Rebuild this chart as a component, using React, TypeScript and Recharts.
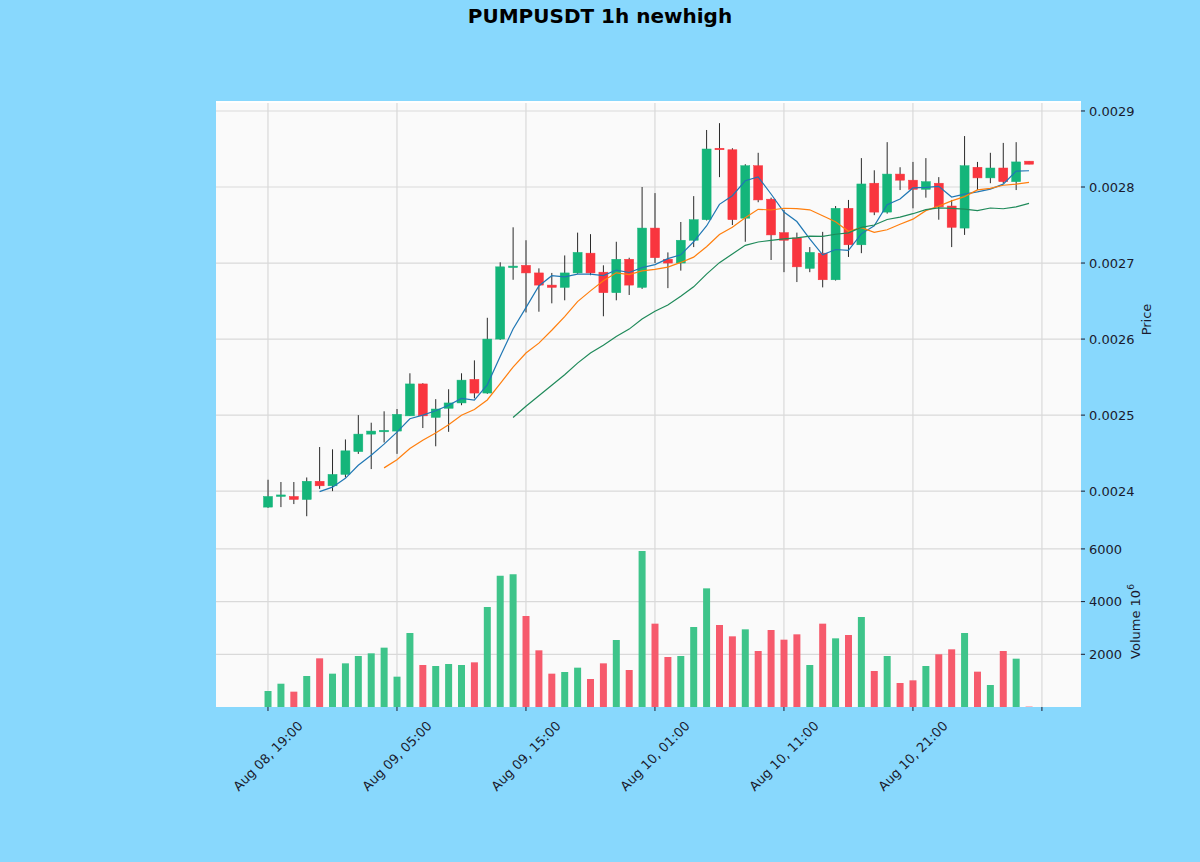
import { ComposedChart, Bar, Line, XAxis, YAxis, CartesianGrid, Cell } from "recharts";

// hourly candles, index 0 = Aug 08 19:00
const opens = [
  0.002379, 0.002393, 0.002393, 0.002389, 0.002413, 0.002407, 0.002422, 0.002452, 0.002475, 0.002479,
  0.002479, 0.002499, 0.002541, 0.002497, 0.002509, 0.002516, 0.002547, 0.002529, 0.0026, 0.002695,
  0.002697, 0.002687, 0.002671, 0.002668, 0.002687, 0.002713, 0.002688, 0.002661, 0.002705, 0.002668,
  0.002746, 0.002705, 0.0027, 0.00273, 0.002757, 0.002851, 0.002849, 0.002759, 0.002828, 0.002784,
  0.00274, 0.002733, 0.002693, 0.002713, 0.002678, 0.002772, 0.002724, 0.002805, 0.002767, 0.002817,
  0.002809, 0.002797, 0.002805, 0.002775, 0.002746, 0.002826, 0.002812, 0.002825, 0.002807, 0.002834,
];
const highs = [
  0.002415, 0.002412, 0.002412, 0.002418, 0.002458, 0.002455, 0.002468, 0.0025, 0.00249, 0.002505,
  0.002508, 0.002555, 0.002542, 0.002521, 0.002534, 0.002555, 0.002572, 0.002628, 0.002701, 0.002747,
  0.00273, 0.002693, 0.002687, 0.00271, 0.00274, 0.002738, 0.002697, 0.002728, 0.002707, 0.0028,
  0.002792, 0.002714, 0.002754, 0.002788, 0.002875, 0.002884, 0.002851, 0.00283, 0.002845, 0.002786,
  0.00277, 0.00274, 0.002721, 0.002741, 0.002775, 0.002783, 0.002838, 0.002822, 0.002859, 0.002826,
  0.002833, 0.002838, 0.002813, 0.002783, 0.002867, 0.002833, 0.002845, 0.002858, 0.002859, 0.002834,
];
const lows = [
  0.002378, 0.002379, 0.002383, 0.002367, 0.002403, 0.0024, 0.002418, 0.002449, 0.002429, 0.002464,
  0.002449, 0.002499, 0.002483, 0.002459, 0.002478, 0.002513, 0.002522, 0.002528, 0.002599, 0.002678,
  0.002635, 0.002636, 0.002647, 0.002651, 0.002686, 0.002684, 0.00263, 0.002651, 0.002658, 0.002666,
  0.0027, 0.002667, 0.00269, 0.002721, 0.002756, 0.002813, 0.00275, 0.002728, 0.00278, 0.002704,
  0.002688, 0.002675, 0.002688, 0.002668, 0.002677, 0.002708, 0.002713, 0.002763, 0.002765, 0.002796,
  0.002772, 0.002786, 0.002757, 0.002721, 0.002737, 0.002796, 0.002805, 0.002805, 0.002796, 0.00283,
];
const closes = [
  0.002393, 0.002395, 0.002389, 0.002413, 0.002407, 0.002422, 0.002453, 0.002475, 0.002479, 0.00248,
  0.002501, 0.002541, 0.002499, 0.002508, 0.002516, 0.002546, 0.002529, 0.0026, 0.002695, 0.002696,
  0.002687, 0.002671, 0.002668, 0.002687, 0.002714, 0.002687, 0.002661, 0.002705, 0.002671, 0.002746,
  0.002707, 0.0027, 0.00273, 0.002757, 0.00285, 0.002849, 0.002757, 0.002828, 0.002783, 0.002737,
  0.00273, 0.002695, 0.002714, 0.002678, 0.002772, 0.002724, 0.002804, 0.002767, 0.002817, 0.002809,
  0.002797, 0.002807, 0.002774, 0.002747, 0.002828, 0.002812, 0.002825, 0.002807, 0.002833, 0.00283,
];
// volume in 10^6
const volumes = [
  607, 884, 582, 1176, 1847, 1265, 1657, 1935, 2037, 2252,
  1151, 2808, 1594, 1556, 1632, 1594, 1695, 3795, 4983, 5035,
  3453, 2151, 1265, 1328, 1493, 1063, 1657, 2543, 1404, 5920,
  3163, 1898, 1935, 3036, 4503, 3112, 2682, 2948, 2125, 2922,
  2555, 2758, 1594, 3163, 2606, 2732, 3416, 1366, 1935, 911,
  1012, 1556, 2000, 2189, 2808, 1341, 835, 2125, 1834, 15,
];
const ma5 = [
  null, null, null, null, 0.0023994, 0.0024052, 0.0024168, 0.002434, 0.0024472, 0.0024618,
  0.0024776, 0.0024952, 0.0025, 0.0025058, 0.002513, 0.002522, 0.0025196, 0.0025398, 0.0025772, 0.0026132,
  0.0026414, 0.0026698, 0.0026834, 0.0026818, 0.0026854, 0.0026854, 0.0026834, 0.0026908, 0.0026876, 0.002694,
  0.002698, 0.0027058, 0.0027108, 0.002728, 0.0027488, 0.0027772, 0.0027886, 0.0028082, 0.0028134, 0.0027908,
  0.002767, 0.0027546, 0.0027318, 0.0027108, 0.0027178, 0.0027166, 0.0027384, 0.002749, 0.0027768, 0.0027842,
  0.0027988, 0.0027994, 0.0028008, 0.0027868, 0.0027906, 0.0027936, 0.0027972, 0.0028038, 0.002821, 0.0028214,
];
const ma10 = [
  null, null, null, null, null, null, null, null, null, 0.0024306,
  0.0024414, 0.002456, 0.002467, 0.0024765, 0.0024874, 0.0024998, 0.0025074, 0.0025199, 0.0025415, 0.0025631,
  0.0025817, 0.0025947, 0.0026116, 0.0026295, 0.0026493, 0.0026634, 0.0026766, 0.0026871, 0.0026847, 0.0026897,
  0.0026917, 0.0026946, 0.0027008, 0.0027078, 0.0027214, 0.0027376, 0.0027472, 0.0027595, 0.0027707, 0.0027698,
  0.0027721, 0.0027716, 0.00277, 0.0027621, 0.0027543, 0.0027418, 0.0027465, 0.0027404, 0.0027438, 0.002751,
  0.0027577, 0.0027689, 0.0027749, 0.0027818, 0.0027874, 0.0027962, 0.0027983, 0.0028023, 0.0028039, 0.002806,
];
const ma20 = [
  null, null, null, null, null, null, null, null, null, null,
  null, null, null, null, null, null, null, null, null, 0.0024969,
  0.0025116, 0.0025254, 0.0025393, 0.002553, 0.0025684, 0.0025816, 0.002592, 0.0026035, 0.0026131, 0.0026264,
  0.0026367, 0.0026447, 0.0026562, 0.0026687, 0.0026854, 0.0027005, 0.0027119, 0.0027233, 0.0027277, 0.0027298,
  0.0027319, 0.0027331, 0.0027354, 0.002735, 0.0027379, 0.0027397, 0.0027469, 0.00275, 0.0027573, 0.0027604,
  0.0027649, 0.0027703, 0.0027725, 0.002772, 0.0027709, 0.002769, 0.0027724, 0.0027714, 0.0027739, 0.0027785,
];

const xTicks = [0, 10, 20, 30, 40, 50, 60];
const xTickLabels = ["Aug 08, 19:00", "Aug 09, 05:00", "Aug 09, 15:00", "Aug 10, 01:00", "Aug 10, 11:00", "Aug 10, 21:00", ""];
const priceTicks = [0.0024, 0.0025, 0.0026, 0.0027, 0.0028, 0.0029];
const volumeTicks = [2000, 4000, 6000];

const UP = "#14b57a";
const DOWN = "#f9353e";
const VOL_UP = "#3ec48a";
const VOL_DOWN = "#f65a6c";
const BG = "#88d8fd";
const GRID = "#d9d9d9";
const TEXT = "#1b1b2e";

const data = closes.map((c, i) => ({
  i,
  hl: [lows[i], highs[i]],
  open: opens[i],
  close: c,
  vol: volumes[i],
  ma5: ma5[i],
  ma10: ma10[i],
  ma20: ma20[i],
}));

const X_DOMAIN = [-4.03, 63.03];
const MARGIN = { top: 0, right: 49, left: 216, bottom: 0 };

function Candle(props: any) {
  const { x, y, width, height, payload } = props;
  const [lo, hi] = payload.hl;
  const color = payload.close >= payload.open ? UP : DOWN;
  const k = height / (hi - lo || 1e-9);
  const cx = x + width / 2;
  const yO = y + (hi - payload.open) * k;
  const yC = y + (hi - payload.close) * k;
  const top = Math.min(yO, yC);
  const h = Math.max(Math.abs(yO - yC), 1.5);
  return (
    <g>
      <line x1={cx} x2={cx} y1={y} y2={y + height} stroke="#2a2a2a" strokeWidth={1} />
      <rect x={cx - 4.5} y={top} width={9} height={h} fill={color} stroke={color} strokeWidth={0.5} />
    </g>
  );
}

function XTick({ x, y, payload }: any) {
  const label = xTickLabels[xTicks.indexOf(payload.value)] ?? "";
  const cy = y + 45;
  return (
    <text
      x={x}
      y={cy}
      transform={`rotate(-45 ${x} ${cy})`}
      textAnchor="middle"
      dominantBaseline="central"
      fontSize={13}
      fill={TEXT}
    >
      {label}
    </text>
  );
}

export default function App() {
  const font = "'DejaVu Sans', sans-serif";
  return (
    <div style={{ position: "absolute", left: 0, top: 0, width: 1200, height: 862, background: BG, fontFamily: font }}>
      <div
        style={{
          position: "absolute",
          top: 4,
          width: 1200,
          textAlign: "center",
          fontSize: 20,
          fontWeight: "bold",
          color: "#000",
        }}
      >
        PUMPUSDT 1h newhigh
      </div>
      {/* plot background for both panels */}
      <div style={{ position: "absolute", left: 216, top: 101, width: 865, height: 2, background: "#ffffff" }} />
      <div style={{ position: "absolute", left: 216, top: 103, width: 865, height: 604, background: "#fafafa" }} />
      <div style={{ position: "absolute", left: 0, top: 103 }}>
        <ComposedChart width={1200} height={433} data={data} margin={MARGIN}>
          <CartesianGrid
            stroke={GRID}
            strokeWidth={1.2}
            horizontalValues={priceTicks}
            verticalValues={xTicks}
            yAxisId="p"
          />
          <XAxis type="number" dataKey="i" domain={X_DOMAIN} ticks={xTicks} allowDataOverflow hide />
          <YAxis
            yAxisId="p"
            orientation="right"
            domain={[0.002341, 0.0029105]}
            ticks={priceTicks}
            allowDataOverflow
            width={70}
            axisLine={false}
            tickSize={4}
            tickMargin={4}
            tickLine={{ stroke: TEXT }}
            tick={{ fontSize: 13, fill: TEXT, textAnchor: "start" }}
            tickFormatter={(v) => v.toFixed(4)}
            label={({ viewBox }: any) => (
              <text
                x={viewBox.x + 70}
                y={viewBox.y + viewBox.height / 2}
                transform={`rotate(-90 ${viewBox.x + 70} ${viewBox.y + viewBox.height / 2})`}
                textAnchor="middle"
                fontSize={13}
                fill={TEXT}
              >
                Price
              </text>
            )}
          />
          <Bar yAxisId="p" dataKey="hl" barSize={9} shape={Candle} isAnimationActive={false} />
          <Line yAxisId="p" dataKey="ma5" stroke="#1f77b4" strokeWidth={1.2} dot={false} isAnimationActive={false} />
          <Line yAxisId="p" dataKey="ma10" stroke="#ff7f0e" strokeWidth={1.2} dot={false} isAnimationActive={false} />
          <Line yAxisId="p" dataKey="ma20" stroke="#1f8a5a" strokeWidth={1.2} dot={false} isAnimationActive={false} />
        </ComposedChart>
      </div>
      <div style={{ position: "absolute", left: 0, top: 536 }}>
        <ComposedChart width={1200} height={326} data={data} margin={MARGIN}>
          <CartesianGrid
            stroke={GRID}
            strokeWidth={1.2}
            horizontalValues={volumeTicks}
            verticalValues={xTicks}
            yAxisId="v"
          />
          <XAxis
            type="number"
            dataKey="i"
            domain={X_DOMAIN}
            ticks={xTicks}
            allowDataOverflow
            height={155}
            axisLine={false}
            tickSize={4}
            tickMargin={0}
            tickLine={{ stroke: TEXT }}
            tick={<XTick />}
            interval={0}
          />
          <YAxis
            yAxisId="v"
            orientation="right"
            domain={[0, 6490]}
            ticks={volumeTicks}
            allowDataOverflow
            width={70}
            axisLine={false}
            tickSize={4}
            tickMargin={4}
            tickLine={{ stroke: TEXT }}
            tick={{ fontSize: 13, fill: TEXT, textAnchor: "start" }}
            label={({ viewBox }: any) => {
              const lx = viewBox.x + 59;
              const ly = viewBox.y + viewBox.height / 2;
              return (
                <text x={lx} y={ly} transform={`rotate(-90 ${lx} ${ly})`} textAnchor="middle" fontSize={13} fill={TEXT}>
                  {"Volume  10"}
                  <tspan fontSize={9} dy={-6}>6</tspan>
                </text>
              );
            }}
          />
          <Bar yAxisId="v" dataKey="vol" barSize={7} isAnimationActive={false}>
            {data.map((d, i) => (
              <Cell key={i} fill={d.close >= d.open ? VOL_UP : VOL_DOWN} />
            ))}
          </Bar>
        </ComposedChart>
      </div>
    </div>
  );
}
